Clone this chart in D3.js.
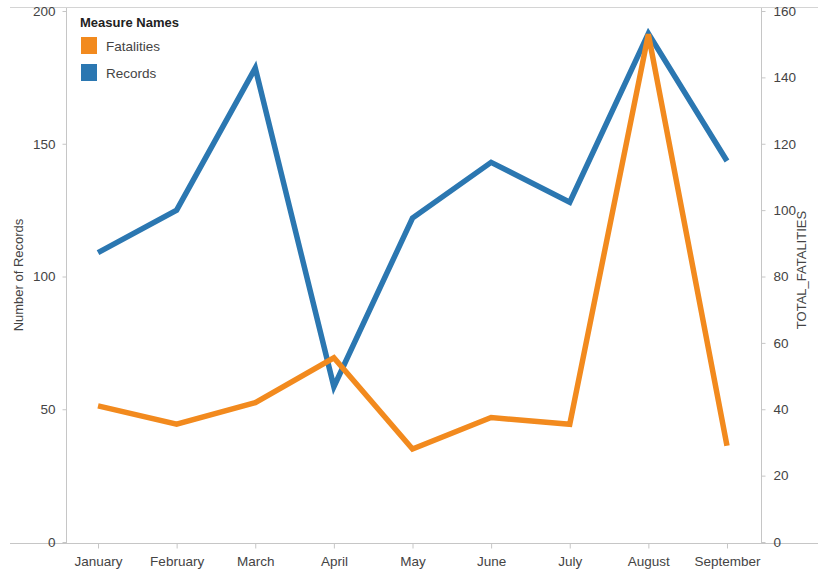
<!DOCTYPE html>
<html><head><meta charset="utf-8">
<script src="https://cdn.jsdelivr.net/npm/d3@7"></script>
<style>body{margin:0;background:#fff;}svg{display:block;font-family:"Liberation Sans",Arial,sans-serif;}</style>
</head><body><svg id="c" width="818" height="574"></svg>
<script>
const months = ["January","February","March","April","May","June","July","August","September"];
const records = [109, 125, 178.5, 58.5, 122, 143, 128, 191.5, 143.5];
const fatalities = [41, 35.5, 42, 55.5, 28, 37.5, 35.5, 153, 29];
const leftTicks = [0, 50, 100, 150, 200];
const rightTicks = [0, 20, 40, 60, 80, 100, 120, 140, 160];
const seriesNames = ["Fatalities", "Records"];
const seriesColors = ["#F28A1E", "#2B77B1"];

const svg = d3.select("#c");
const L = 66, R = 761, T = 11, B = 542;
const x = d3.scalePoint().domain(months).range([L - 1, R - 1]).padding(0.42);
const yL = d3.scaleLinear().domain([0, 200]).range([B, T]);
const yR = d3.scaleLinear().domain([0, 160]).range([B, T]);
const axisCol = "#c6c6c6", textCol = "#444";
const fs = "13.5px";

// frame lines
svg.append("line").attr("x1", 10).attr("x2", 818).attr("y1", 7.5).attr("y2", 7.5).attr("stroke", "#d4d4d4");
svg.append("line").attr("x1", 10).attr("x2", 818).attr("y1", 543.5).attr("y2", 543.5).attr("stroke", axisCol);
svg.append("line").attr("x1", L + 0.5).attr("x2", L + 0.5).attr("y1", 8).attr("y2", 543).attr("stroke", axisCol);
svg.append("line").attr("x1", R + 0.5).attr("x2", R + 0.5).attr("y1", 8).attr("y2", 543).attr("stroke", axisCol);

function styleAxis(g) {
  g.select(".domain").remove();
  g.selectAll(".tick line").attr("stroke", axisCol);
  g.selectAll(".tick text").attr("fill", textCol).style("font-size", fs).style("font-family", "'Liberation Sans',Arial,sans-serif");
}
svg.append("g").attr("transform", `translate(${L + 0.5},0)`)
  .call(d3.axisLeft(yL).tickValues(leftTicks).tickSize(4).tickPadding(7)).call(styleAxis);
svg.append("g").attr("transform", `translate(${R + 0.5},0)`)
  .call(d3.axisRight(yR).tickValues(rightTicks).tickSize(4).tickPadding(8)).call(styleAxis);
svg.append("g").attr("transform", `translate(0,${543.5})`)
  .call(d3.axisBottom(x).tickSize(5).tickPadding(8)).call(styleAxis);

svg.append("text").attr("transform", `translate(23,275) rotate(-90)`).attr("text-anchor", "middle")
  .attr("fill", textCol).style("font-size", "13px").text("Number of Records");
svg.append("text").attr("transform", `translate(806,270) rotate(-90)`).attr("text-anchor", "middle")
  .attr("fill", textCol).style("font-size", "13px").text("TOTAL_FATALITIES");

const line = (ys) => d3.line().x((d, i) => x(months[i])).y(d => ys(d));
svg.append("path").datum(records).attr("d", line(yL)).attr("fill", "none")
  .attr("stroke", seriesColors[1]).attr("stroke-width", 5.5).attr("stroke-linejoin", "miter");
svg.append("path").datum(fatalities).attr("d", line(yR)).attr("fill", "none")
  .attr("stroke", seriesColors[0]).attr("stroke-width", 5.5).attr("stroke-linejoin", "miter");

// legend
const lg = svg.append("g");
lg.append("text").attr("x", 80).attr("y", 27).attr("fill", "#222").style("font-size", "13px").style("font-weight", "bold").text("Measure Names");
seriesNames.forEach((n, i) => {
  lg.append("rect").attr("x", 81).attr("y", 37 + i * 27).attr("width", 16).attr("height", 17).attr("fill", seriesColors[i]);
  lg.append("text").attr("x", 106).attr("y", 51 + i * 27).attr("fill", textCol).style("font-size", fs).text(n);
});
</script></body></html>
